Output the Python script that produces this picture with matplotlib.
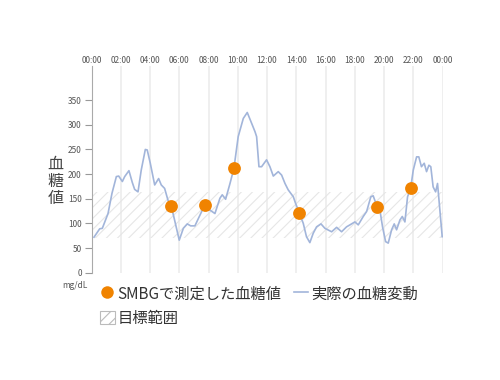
import matplotlib
matplotlib.use("Agg")
import matplotlib.pyplot as plt
from matplotlib.lines import Line2D
from matplotlib.patches import Patch

plt.rcParams['font.family'] = ['Noto Sans CJK JP', 'DejaVu Sans']
plt.rcParams['hatch.linewidth'] = 0.8

# Actual glucose curve (hours, mg/dL)
cgm_hours = [0.17, 0.56, 0.74, 1.13, 1.40, 1.70, 1.86, 2.11, 2.27, 2.56, 2.79,
             2.95, 3.18, 3.40, 3.68, 3.81, 4.02, 4.32, 4.59, 4.77, 5.00, 5.23,
             5.45, 5.64, 6.00, 6.28, 6.55, 6.78, 7.07, 7.42, 7.74, 8.10, 8.44,
             8.78, 8.94, 9.17, 9.47, 9.74, 10.03, 10.38, 10.65, 10.95, 11.18,
             11.29, 11.45, 11.63, 11.97, 12.20, 12.43, 12.77, 13.00, 13.23,
             13.45, 13.80, 13.95, 14.20, 14.48, 14.70, 14.93, 15.16, 15.39,
             15.69, 15.96, 16.42, 16.76, 17.10, 17.44, 17.67, 18.01, 18.24,
             18.58, 18.81, 19.10, 19.26, 19.54, 19.72, 19.90, 20.11, 20.29,
             20.52, 20.70, 20.86, 21.09, 21.25, 21.43, 21.61, 21.82, 22.00,
             22.23, 22.38, 22.56, 22.75, 22.91, 23.07, 23.20, 23.36, 23.53,
             23.66, 23.82, 23.98]
cgm_values = [72, 89, 90, 120, 161, 195, 196, 185, 195, 207, 183,
              169, 164, 208, 250, 249, 222, 178, 191, 178, 171, 147,
              135, 112, 66, 90, 99, 95, 95, 117, 137, 127, 120,
              151, 158, 149, 181, 212, 276, 313, 325, 303, 286,
              276, 215, 215, 229, 215, 196, 205, 198, 181,
              168, 154, 141, 122, 100, 73, 61, 80, 93,
              99, 90, 83, 92, 83, 93, 97, 103, 97,
              114, 124, 154, 156, 133, 127, 93, 63, 60,
              87, 99, 87, 107, 114, 103, 154, 171, 208,
              235, 235, 215, 222, 205, 218, 215, 174, 164,
              181, 127, 73]

# SMBG measurements
smbg_hours = [5.45, 7.74, 9.74, 14.20, 19.54, 21.82]
smbg_values = [135, 138, 213, 122, 133, 172]

target_range = [70, 163]
x_ticks = list(range(0, 25, 2))
x_labels = ["00:00", "02:00", "04:00", "06:00", "08:00", "10:00", "12:00",
            "14:00", "16:00", "18:00", "20:00", "22:00", "00:00"]
y_ticks = [0, 50, 100, 150, 200, 250, 300, 350]

fig = plt.figure(figsize=(5, 3.8), dpi=100)
ax = fig.add_axes([0.183, 0.2824, 0.702, 0.5448])

# Target band with faint hatching
ax.fill_between([0, 24], target_range[0], target_range[1], facecolor="none",
                edgecolor="#e6e6e6", hatch="///", linewidth=0, zorder=1)

ax.plot(cgm_hours, cgm_values, color="#a2b5da", linewidth=1.2, zorder=3)
ax.scatter(smbg_hours, smbg_values, s=85, color="#f08300", zorder=4,
           linewidths=0)

ax.set_xlim(0, 24)
ax.set_ylim(0, 420)

ax.xaxis.tick_top()
ax.set_xticks(x_ticks)
ax.set_xticklabels(x_labels, fontsize=6, color="#555555")
ax.tick_params(axis="x", length=0, pad=0.5)
ax.grid(axis="x", color="#eeeeee", linewidth=1.3, zorder=0)
ax.set_axisbelow(True)

ax.set_yticks(y_ticks)
ax.set_yticklabels([str(v) for v in y_ticks], fontsize=6, color="#555555")
ax.tick_params(axis="y", length=5, width=0.8, color="#999999", pad=2)

for side in ["top", "right", "bottom"]:
    ax.spines[side].set_visible(False)
ax.spines["left"].set_color("#aaaaaa")
ax.spines["left"].set_linewidth(0.8)

fig.text(0.111, 0.522, "血\n糖\n値", fontsize=11.5, color="#444444",
         ha="center", va="center", linespacing=1.0)
fig.text(0.125, 0.248, "mg/dL", fontsize=6, color="#555555",
         ha="left", va="center")

handles = [
    Line2D([], [], marker="o", linestyle="none", markersize=9,
           markerfacecolor="#f08300", markeredgewidth=0),
    Patch(facecolor="white", edgecolor="#bbbbbb", hatch="///",
          linewidth=0.8),
    Line2D([], [], color="#a2b5da", linewidth=1.2),
]
labels = ["SMBGで測定した血糖値", "目標範囲", "実際の血糖変動"]
fig.legend(handles, labels, loc="upper left", bbox_to_anchor=(0.185, 0.269),
           ncol=2, frameon=False, fontsize=11, borderpad=0,
           handlelength=0.95, handleheight=0.95, handletextpad=0.2,
           columnspacing=0.8, labelspacing=0.5, labelcolor="#333333")

fig.savefig("out.png", dpi=100)
